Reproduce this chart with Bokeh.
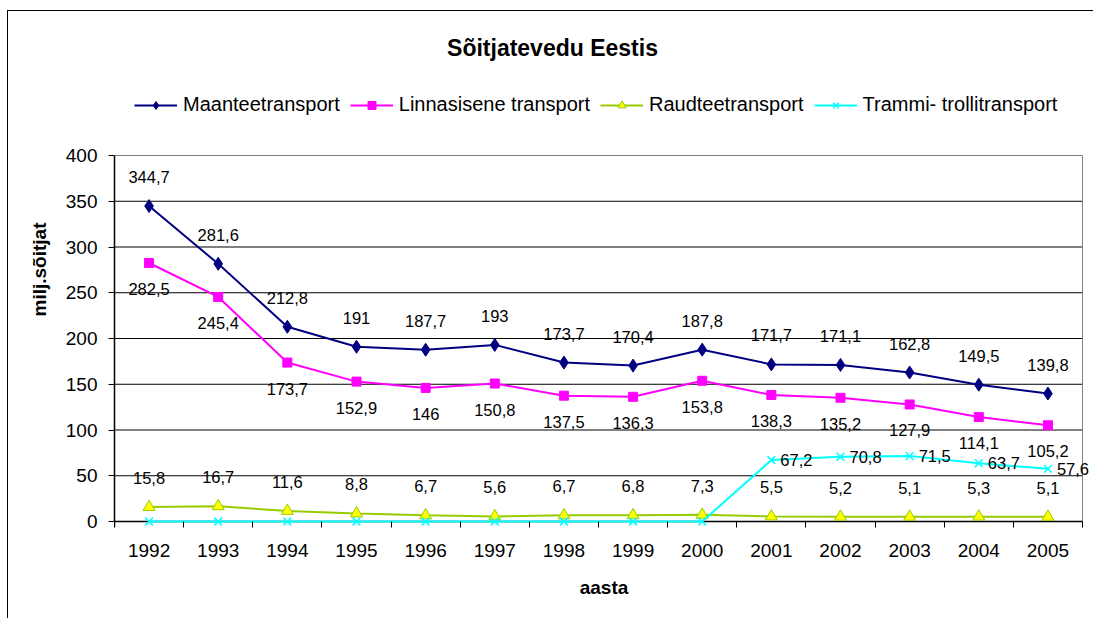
from bokeh.plotting import figure
from bokeh.models import (ColumnDataSource, LabelSet, Label, Legend, LegendItem,
                          FixedTicker, Range1d)
from bokeh.core.properties import value
from bokeh.embed import file_html
from bokeh.resources import INLINE

# ---- data ----
years = [1992, 1993, 1994, 1995, 1996, 1997, 1998, 1999, 2000, 2001, 2002, 2003, 2004, 2005]
maantee = [344.7, 281.6, 212.8, 191, 187.7, 193, 173.7, 170.4, 187.8, 171.7, 171.1, 162.8, 149.5, 139.8]
linnasisene = [282.5, 245.4, 173.7, 152.9, 146, 150.8, 137.5, 136.3, 153.8, 138.3, 135.2, 127.9, 114.1, 105.2]
raudtee = [15.8, 16.7, 11.6, 8.8, 6.7, 5.6, 6.7, 6.8, 7.3, 5.5, 5.2, 5.1, 5.3, 5.1]
trammi = [0, 0, 0, 0, 0, 0, 0, 0, 0, 67.2, 70.8, 71.5, 63.7, 57.6]
series_names = ["Maanteetransport", "Linnasisene transport", "Raudteetransport", "Trammi- trollitransport"]
title_text = "Sõitjatevedu Eestis"
y_label = "milj.sõitjat"
x_label = "aasta"
y_ticks = [0, 50, 100, 150, 200, 250, 300, 350, 400]

FONT = "Liberation Sans"

# ---- layout (pixels) ----
CW, CH = 1085, 607          # figure content size
LEFT = 106                  # frame left (plot area left)
PA_W = 968                  # plot area width (14 categories)
PA_TOP = 144                # plot area top
PA_H = 366                  # plot area height
EXTRA_BOTTOM = 6            # frame extends below zero line (tick length)
FRAME_W = CW - LEFT
FRAME_H = PA_TOP + PA_H + EXTRA_BOTTOM

x0 = years[0] - 0.5
x1 = years[-1] + 0.5
px_per_x = PA_W / (x1 - x0)
px_per_y = PA_H / (y_ticks[-1] - y_ticks[0])
xr = Range1d(x0, x0 + FRAME_W / px_per_x)
yr = Range1d(y_ticks[0] - EXTRA_BOTTOM / px_per_y, y_ticks[-1] + PA_TOP / px_per_y)


def fmt(v):
    return ("%g" % v).replace(".", ",")


p = figure(frame_width=FRAME_W, frame_height=FRAME_H, x_range=xr, y_range=yr,
           output_backend="svg", toolbar_location=None,
           min_border_left=LEFT, min_border_right=0,
           min_border_top=0, min_border_bottom=CH - FRAME_H,
           background_fill_color="white", border_fill_color="white",
           outline_line_color=None,
           styles={"margin-left": "7px", "margin-top": "10px",
                   "border-left": "1px solid black", "border-top": "1px solid black"})

# x axis sits at the bottom edge of the frame, 6px below the zero line;
# category boundary ticks are drawn inward up to the zero line
p.xaxis.bounds = (x0, x1)
p.xaxis.ticker = FixedTicker(ticks=years,
                             minor_ticks=[y - 0.5 for y in years] + [x1])
p.xaxis.axis_line_color = None
p.xaxis.major_tick_line_color = None
p.xaxis.major_tick_out = 0
p.xaxis.major_tick_in = 0
p.xaxis.minor_tick_out = 0
p.xaxis.minor_tick_in = EXTRA_BOTTOM
p.xaxis.minor_tick_line_color = "black"
p.xaxis.minor_tick_line_width = 1
p.xaxis.major_label_standoff = 16
p.xaxis.axis_label = x_label
p.xaxis.axis_label_standoff = 17

p.yaxis.bounds = (y_ticks[0], y_ticks[-1])
p.yaxis.ticker = FixedTicker(ticks=y_ticks)
p.yaxis.axis_line_color = "black"
p.yaxis.axis_line_width = 1.5
p.yaxis.major_tick_line_color = "black"
p.yaxis.major_tick_out = 6
p.yaxis.major_tick_in = 0
p.yaxis.minor_tick_line_color = None
p.yaxis.major_label_standoff = 11
p.yaxis.axis_label = y_label
p.yaxis.axis_label_standoff = 13

for ax in (p.xaxis, p.yaxis):
    ax.major_label_text_font = FONT
    ax.major_label_text_font_size = "19px"
    ax.major_label_text_color = "black"
    ax.axis_label_text_font = FONT
    ax.axis_label_text_font_size = "19px"
    ax.axis_label_text_font_style = "bold"
    ax.axis_label_text_color = "black"

p.xgrid.grid_line_color = None
p.ygrid.grid_line_color = None

# gridlines and plot-area border, limited to the plot area
gy = y_ticks[1:]
p.segment(x0=[x0] * len(gy), x1=[x1] * len(gy), y0=gy, y1=gy,
          line_color=["black"] * (len(gy) - 1) + ["#808080"], line_width=1)
p.segment(x0=[x1], x1=[x1], y0=[y_ticks[0]], y1=[y_ticks[-1]], line_color="#808080", line_width=1)
# zero line (category axis line)
p.segment(x0=[x0], x1=[x1], y0=[y_ticks[0]], y1=[y_ticks[0]], line_color="black", line_width=1.5)
# y axis continuation down to the tick length
p.segment(x0=[x0], x1=[x0], y0=[yr.start], y1=[y_ticks[0]], line_color="black", line_width=1.5)

src = ColumnDataSource(dict(
    x=years, m=maantee, l=linnasisene, r=raudtee, t=trammi,
    ml=[fmt(v) for v in maantee], ll=[fmt(v) for v in linnasisene],
    rl=[fmt(v) for v in raudtee],
))
t_idx = [i for i, v in enumerate(trammi) if v != 0]
tsrc = ColumnDataSource(dict(x=[years[i] for i in t_idx], t=[trammi[i] for i in t_idx],
                             tl=[fmt(trammi[i]) for i in t_idx]))

navy = "#000080"
mag = "#FF00FF"
grn = "#99CC00"
cyan = "#00FFFF"

l1 = p.line("x", "m", source=src, line_color=navy, line_width=2)
m1 = p.scatter("x", "m", source=src, marker="diamond", size=13,
               fill_color=navy, line_color=navy)
l2 = p.line("x", "l", source=src, line_color=mag, line_width=2)
m2 = p.scatter("x", "l", source=src, marker="square", size=9, fill_color=mag, line_color=mag)
l3 = p.line("x", "r", source=src, line_color=grn, line_width=2)
m3 = p.scatter("x", "r", source=src, marker="triangle", size=12, fill_color="#FFFF00", line_color=grn)
l4 = p.line("x", "t", source=src, line_color=cyan, line_width=2)
m4 = p.scatter("x", "t", source=src, marker="x", size=11, line_color=cyan, line_width=1.5)

lab_kw = dict(text_font=value(FONT), text_font_size=value("16.5px"), text_color="black",
              text_align="center", text_baseline="middle")
p.add_layout(LabelSet(x="x", y="m", text="ml", source=src, y_offset=29, **lab_kw))
p.add_layout(LabelSet(x="x", y="l", text="ll", source=src, y_offset=-26, **lab_kw))
p.add_layout(LabelSet(x="x", y="r", text="rl", source=src, y_offset=29, **lab_kw))
tkw = dict(lab_kw)
tkw["text_align"] = "left"
p.add_layout(LabelSet(x="x", y="t", text="tl", source=tsrc, x_offset=9, **tkw))

# title (screen units relative to frame: x from left, y from bottom)
p.add_layout(Label(x=438, y=FRAME_H - 36, x_units="screen", y_units="screen", text=title_text,
                   text_font=FONT, text_font_size="23px", text_font_style="bold",
                   text_align="center", text_baseline="middle", text_color="black"))

legend = Legend(items=[
    LegendItem(label=series_names[0], renderers=[l1, m1]),
    LegendItem(label=series_names[1], renderers=[l2, m2]),
    LegendItem(label=series_names[2], renderers=[l3, m3]),
    LegendItem(label=series_names[3], renderers=[l4, m4]),
], orientation="horizontal", location=(20, FRAME_H - 105), padding=0, margin=0, spacing=10,
    glyph_width=43, glyph_height=20, label_standoff=6, label_height=20,
    label_text_font=FONT, label_text_font_size="20px", label_text_color="black",
    border_line_color=None, background_fill_alpha=0)
p.add_layout(legend, "center")

open("out.html", "w").write(file_html(p, INLINE))
